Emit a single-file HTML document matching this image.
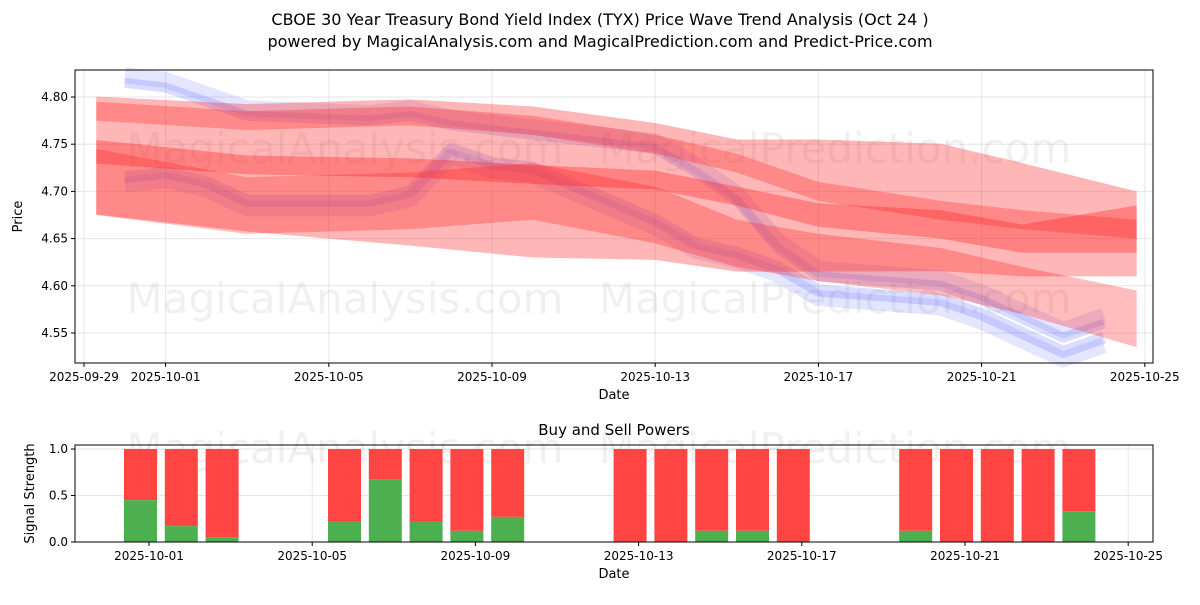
<!DOCTYPE html>
<html><head><meta charset="utf-8"><style>
body{margin:0;background:#fff;font-family:"Liberation Sans","DejaVu Sans",sans-serif;}
svg text{font-family:"DejaVu Sans","Liberation Sans",sans-serif;}
</style></head><body>
<svg id="c" width="1200" height="600" xmlns="http://www.w3.org/2000/svg">
<text x="600" y="25" text-anchor="middle" font-size="16">CBOE 30 Year Treasury Bond Yield Index (TYX) Price Wave Trend Analysis (Oct 24 )</text>
<text x="600" y="47" text-anchor="middle" font-size="16">powered by MagicalAnalysis.com and MagicalPrediction.com and Predict-Price.com</text>
<g id="main"></g><g id="sub"></g>
</svg>
<script>
const dates=["2025-09-30","2025-10-01","2025-10-02","2025-10-03","2025-10-06","2025-10-07","2025-10-08","2025-10-09","2025-10-10","2025-10-13","2025-10-14","2025-10-15","2025-10-16","2025-10-17","2025-10-20","2025-10-21","2025-10-22","2025-10-23","2025-10-24"];
const priceUpper=[4.815,4.81,4.795,4.78,4.775,4.78,4.77,4.765,4.76,4.745,4.72,4.69,4.64,4.61,4.60,4.585,4.565,4.545,4.56];
const priceLower=[4.715,4.72,4.71,4.69,4.69,4.70,4.745,4.73,4.725,4.67,4.645,4.635,4.62,4.595,4.585,4.57,4.55,4.53,4.545];
// red bands: center values at anchor days (days since 2025-09-29)
const bandDays=[0.3,4,8,11,14,16,18,21,23,25.8];
const bandA=[4.738,4.725,4.72,4.71,4.70,4.685,4.685,4.683,4.67,4.655];
const bandAw=[0.125,0.135,0.155,0.16,0.145,0.14,0.14,0.135,0.12,0.09];
const bandB=[4.742,4.728,4.725,4.718,4.712,4.695,4.675,4.665,4.65,4.66];
const bandBw=[0.025,0.02,0.02,0.02,0.02,0.02,0.025,0.03,0.03,0.05];
const bandC=[4.785,4.775,4.78,4.77,4.75,4.73,4.70,4.68,4.67,4.66];
const bandCw=[0.02,0.02,0.02,0.02,0.02,0.02,0.02,0.02,0.02,0.02];
const bandD=[4.71,4.685,4.69,4.70,4.675,4.645,4.63,4.615,4.595,4.565];
const bandDw=[0.07,0.06,0.06,0.06,0.06,0.05,0.05,0.05,0.05,0.06];
const barDates=["2025-10-01","2025-10-02","2025-10-03","2025-10-06","2025-10-07","2025-10-08","2025-10-09","2025-10-10","2025-10-13","2025-10-14","2025-10-15","2025-10-16","2025-10-17","2025-10-20","2025-10-21","2025-10-22","2025-10-23","2025-10-24"];
const buyPower=[0.45,0.17,0.05,0.22,0.67,0.22,0.12,0.27,0,0,0.12,0.12,0,0.12,0,0,0,0.33];
const xTicks=["2025-09-29","2025-10-01","2025-10-05","2025-10-09","2025-10-13","2025-10-17","2025-10-21","2025-10-25"];
const yTicks=[4.55,4.60,4.65,4.70,4.75,4.80];
const sTicks=[0,0.5,1.0];

const NS="http://www.w3.org/2000/svg";
const t0=Date.parse("2025-09-29");
const day=d=>(Date.parse(d)-t0)/864e5;
const XD=n=>84+n*40.8;
const X=d=>XD(day(d));
const XS=d=>149+(day(d)-2)*40.8;
const Y=v=>97+(4.80-v)/0.05*47.2;
const YS=v=>542-v*93;
function el(p,tag,a){const e=document.createElementNS(NS,tag);for(const k in a)e.setAttribute(k,a[k]);p.appendChild(e);return e;}
const main=document.getElementById('main'),sub=document.getElementById('sub');

function frame(g,x0,y0,x1,y1,xf,ticks,yf,yfmt,ylabel,ly){
  for(const t of xTicks){const x=xf(t); if(x<x0-1||x>x1+1)continue;
    const gl=el(g,'line',{x1:x,x2:x,y1:y0,y2:y1,stroke:'#e6e6e6'});
    
    el(g,'line',{x1:x,x2:x,y1:y1,y2:y1+4,stroke:'#000'});
    const tx=el(g,'text',{x:x,y:y1+18,'text-anchor':'middle','font-size':12});tx.textContent=t;
    }
  for(const v of ticks){const y=yf(v);
    el(g,'line',{x1:x0,x2:x1,y1:y,y2:y,stroke:'#e6e6e6'});
    el(g,'line',{x1:x0-4,x2:x0,y1:y,y2:y,stroke:'#000'});
    const tx=el(g,'text',{x:x0-7,y:y+4,'text-anchor':'end','font-size':12});tx.textContent=yfmt(v);
    }
  const xl=el(g,'text',{x:(x0+x1)/2,y:y1+36,'text-anchor':'middle','font-size':13});xl.textContent='Date';
  
  const yl=el(g,'text',{x:ly,y:(y0+y1)/2,'text-anchor':'middle','font-size':13,transform:`rotate(-90 ${ly} ${(y0+y1)/2})`});yl.textContent=ylabel;
  
}
function wm(g,y){for(const [x,t] of [[345,'MagicalAnalysis.com'],[835,'MagicalPrediction.com']]){
  const w=el(g,'text',{x:x,y:y,'text-anchor':'middle','font-size':42,fill:'#000','fill-opacity':0.06});w.textContent=t;
  }}

frame(main,75,70,1153,363,X,yTicks,Y,v=>v.toFixed(2),'Price',22);
wm(main,163);wm(main,313);

// blue price waves
for(const [arr,off,w,op] of [[priceUpper,0.008,16,0.15],[priceUpper,0,10,0.2],[priceLower,0,12,0.2],[priceLower,-0.008,16,0.15]]){
  const pts=arr.map((v,i)=>`${X(dates[i])},${Y(v+off)}`).join(' ');
  const l=el(main,'polyline',{points:pts,fill:'none',stroke:'#4a55ff','stroke-opacity':op,'stroke-width':w,'stroke-linejoin':'round'});
  
}
function band(c,w,op){
  const top=bandDays.map((d,i)=>`${XD(d)},${Y(c[i]+w[i]/2)}`);
  const bot=bandDays.map((d,i)=>`${XD(d)},${Y(c[i]-w[i]/2)}`).reverse();
  const p=el(main,'polygon',{points:top.concat(bot).join(' '),fill:'#ff2020','fill-opacity':op});
  
}
band(bandA,bandAw,0.33);
band(bandD,bandDw,0.3);
band(bandC,bandCw,0.3);
band(bandB,bandBw,0.35);
el(main,'rect',{x:75,y:70,width:1078,height:293,fill:'none',stroke:'#000'});

// sub chart
const st=el(sub,'text',{x:614,y:435,'text-anchor':'middle','font-size':15});st.textContent='Buy and Sell Powers';

frame(sub,75,445,1153,542,XS,sTicks,YS,v=>v.toFixed(1),'Signal Strength',34);
wm(sub,463);
barDates.forEach((d,i)=>{const x=XS(d)-25;
  const r=el(sub,'rect',{x:x,y:YS(1),width:33,height:YS(buyPower[i])-YS(1),fill:'#ff4444'});
  
  const g=el(sub,'rect',{x:x,y:YS(buyPower[i]),width:33,height:542-YS(buyPower[i]),fill:'#4caf50'});
  
});
el(sub,'rect',{x:75,y:445,width:1078,height:97,fill:'none',stroke:'#000'});
</script>
</body></html>
